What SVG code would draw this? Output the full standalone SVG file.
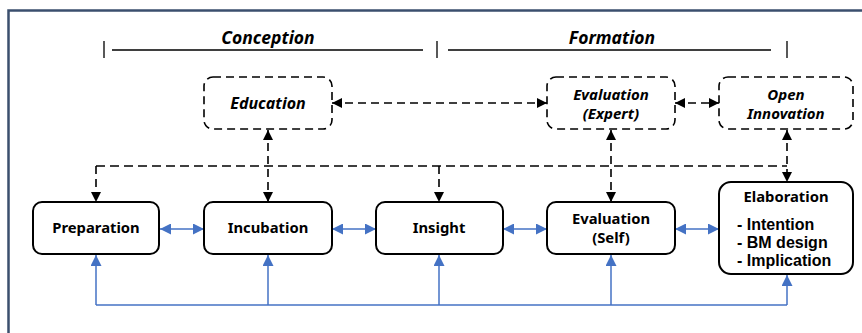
<svg xmlns="http://www.w3.org/2000/svg" width="862" height="333" viewBox="0 0 862 333">
<defs>
<marker id="ab" viewBox="0 0 10 10" refX="10" refY="5" markerWidth="10" markerHeight="10" markerUnits="userSpaceOnUse" orient="auto-start-reverse"><path d="M0,0 L10,5 L0,10 z" fill="#000"/></marker>
<marker id="au" viewBox="0 0 10 10" refX="10" refY="5" markerWidth="11" markerHeight="11" markerUnits="userSpaceOnUse" orient="auto-start-reverse"><path d="M0,0 L10,5 L0,10 z" fill="#4472c4"/></marker>
<style>
.box{fill:#fff;stroke:#000;stroke-width:2}
.dbox{fill:#fff;stroke:#000;stroke-width:1.6;stroke-dasharray:8 5}
.t{font-family:"Noto Sans","Open Sans",sans-serif;font-weight:bold;font-size:14.8px;fill:#000;text-anchor:middle}
.li{font-family:"Liberation Sans",Arial,sans-serif;font-weight:bold;font-size:16px;fill:#000}
.it{font-family:"Noto Sans","Open Sans",sans-serif;font-weight:bold;font-style:italic;font-size:16px;fill:#000;text-anchor:middle}
.it2{font-size:15px}
.ph{font-size:17.5px}
.dl{fill:none;stroke:#000;stroke-width:1.6;stroke-dasharray:8 5}
.bl{fill:none;stroke:#4472c4;stroke-width:1.5}
.fr{stroke:#3b4f6e;stroke-width:2.5;fill:none}
.br{stroke:#000;stroke-width:1.3;fill:none}
</style>
</defs>
<rect width="862" height="333" fill="#fff"/>
<path class="fr" d="M8.5,333 V10.5 H862"/>
<g id="phases">
<path class="br" d="M104,41 V58 M112,50 H423 M437,41 V58 M448,50 H771 M787,41 V58"/>
<text class="it ph" x="268" y="44">Conception</text>
<text class="it ph" x="612" y="44">Formation</text>
</g>
<g id="connectors">
<path class="dl" d="M96,166 H787" style="stroke-dasharray:9 5"/>
<path class="dl" d="M96,166 V202" marker-end="url(#ab)"/>
<path class="dl" d="M268,130 V202" marker-start="url(#ab)" marker-end="url(#ab)"/>
<path class="dl" d="M439,166 V202" marker-end="url(#ab)"/>
<path class="dl" d="M611,130 V202" marker-start="url(#ab)" marker-end="url(#ab)"/>
<path class="dl" d="M787,130 V182" marker-start="url(#ab)" marker-end="url(#ab)"/>
<path class="dl" d="M332,103 H547" marker-start="url(#ab)" marker-end="url(#ab)"/>
<path class="dl" d="M675,103 H719" marker-start="url(#ab)" marker-end="url(#ab)"/>
<path class="bl" d="M160,229 H204" marker-start="url(#au)" marker-end="url(#au)"/>
<path class="bl" d="M332,229 H376" marker-start="url(#au)" marker-end="url(#au)"/>
<path class="bl" d="M503,229 H547" marker-start="url(#au)" marker-end="url(#au)"/>
<path class="bl" d="M675,229 H719" marker-start="url(#au)" marker-end="url(#au)"/>
<path class="bl" d="M96,305 H787"/>
<path class="bl" d="M96,305 V255" marker-end="url(#au)"/>
<path class="bl" d="M268,305 V255" marker-end="url(#au)"/>
<path class="bl" d="M439,305 V255" marker-end="url(#au)"/>
<path class="bl" d="M611,305 V255" marker-end="url(#au)"/>
<path class="bl" d="M787,305 V275" marker-end="url(#au)"/>
</g>
<g id="education"><rect class="dbox" x="204" y="77" width="128" height="52" rx="9"/><text class="it" x="268" y="109">Education</text></g>
<g id="evaluation-expert"><rect class="dbox" x="547" y="77" width="128" height="52" rx="9"/><text class="it it2" x="611" y="100">Evaluation</text><text class="it it2" x="611" y="119">(Expert)</text></g>
<g id="open-innovation"><rect class="dbox" x="719" y="77" width="134" height="52" rx="9"/><text class="it it2" x="786" y="100">Open</text><text class="it it2" x="786" y="119">Innovation</text></g>
<g id="preparation"><rect class="box" x="33" y="202" width="126" height="52" rx="9"/><text class="t" x="96" y="233">Preparation</text></g>
<g id="incubation"><rect class="box" x="204" y="202" width="128" height="52" rx="9"/><text class="t" x="268" y="233">Incubation</text></g>
<g id="insight"><rect class="box" x="376" y="202" width="127" height="52" rx="9"/><text class="t" x="439" y="233">Insight</text></g>
<g id="evaluation-self"><rect class="box" x="547" y="202" width="128" height="52" rx="9"/><text class="t" x="611" y="224">Evaluation</text><text class="t" x="611" y="243">(Self)</text></g>
<g id="elaboration"><rect class="box" x="719" y="182" width="134" height="92" rx="12"/><text class="t" x="786" y="202">Elaboration</text>
<text class="li" x="737" y="230">- Intention</text>
<text class="li" x="737" y="248">- BM design</text>
<text class="li" x="737" y="266">- Implication</text></g>
</svg>
